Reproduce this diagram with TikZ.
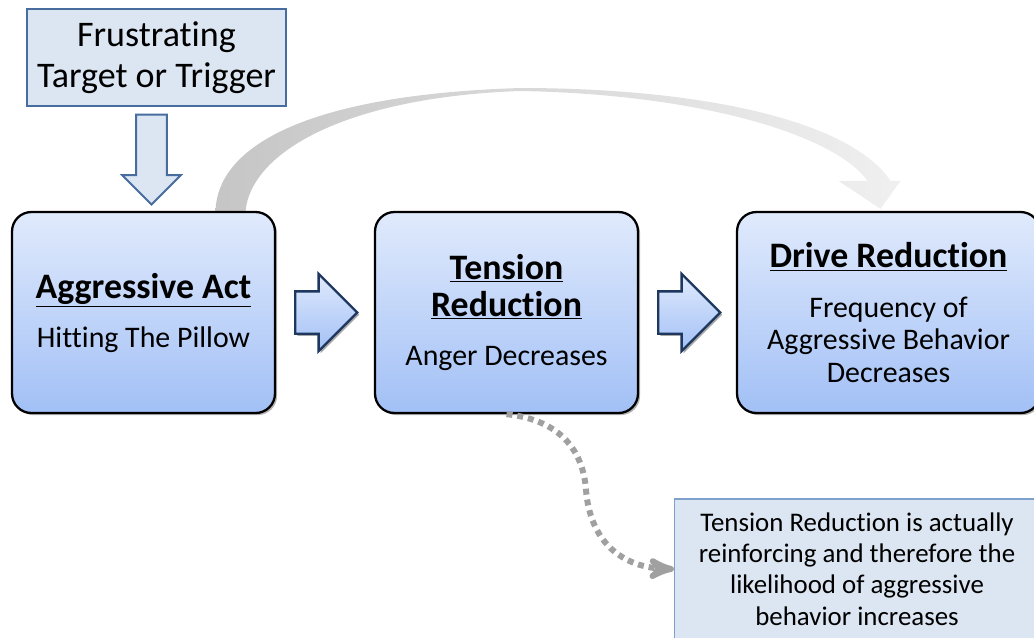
\documentclass[tikz,border=0pt]{standalone}
\usepackage{fontspec}
\setmainfont{Carlito}[Ligatures=NoCommon]
\usepackage{tikz}
\usetikzlibrary{arrows, shapes.arrows, shadows, calc, backgrounds}

\definecolor{stagetop}{RGB}{224,234,252}
\definecolor{stagebot}{RGB}{162,192,246}
\definecolor{paleblue}{RGB}{220,230,242}
\definecolor{steelblue}{RGB}{70,108,160}
\definecolor{noteline}{RGB}{125,160,205}
\definecolor{darknavy}{RGB}{30,55,95}
\definecolor{dotgray}{RGB}{160,160,160}

\newcommand{\headfont}{\fontsize{20.4}{24}\selectfont\bfseries}
\newcommand{\bodyfont}{\fontsize{17}{18.4}\selectfont}

\begin{document}
\begin{tikzpicture}
        [x=0.02cm, y=-0.02cm,
        stage/.style={rectangle, rounded corners=11pt, draw=black, line width=1.3pt,
           top color=stagetop, bottom color=stagebot, align=center, font=\bodyfont,
           minimum width=5.26cm, minimum height=4.02cm,
           drop shadow={shadow xshift=1.2pt, shadow yshift=-1.2pt, opacity=.6}},
        panel/.style={rectangle, fill=paleblue, align=center, line width=0.7pt},
        blockarr/.style={single arrow, anchor=tail, single arrow head extend=0.35cm, inner xsep=0pt, inner ysep=0.4cm,
           minimum height=1.24cm, draw=darknavy, line width=1.3pt,
           top color=stagetop, bottom color=stagebot,
           drop shadow={shadow xshift=1.2pt, shadow yshift=-1.2pt, opacity=.7}},
        dotarr/.style={->, >=stealth', color=dotgray, line width=3.4pt, dash pattern=on 3.4pt off 2.8pt}]
        \useasboundingbox (0,0) rectangle (1034,637);
        \node (trig) at (156.5,57.5) [panel, draw=steelblue, minimum width=5.18cm, minimum height=1.94cm,
           font=\fontsize{20.5}{23.3}\selectfont] {Frustrating\\Target or Trigger};
        \node (act) at (143.5,312.5) [stage]
           {{\headfont\underline{Aggressive Act}}\\[9.5pt]Hitting The Pillow};
        \node (ten) at (506.5,312.5) [stage]
           {{\headfont\underline{Tension}}\\[2.6pt]{\headfont\underline{Reduction}}\\[10pt]Anger Decreases};
        \node (drv) at (888.5,312.5) [stage, minimum width=6.06cm]
           {{\headfont\underline{Drive Reduction}}\\[10pt]Frequency of\\Aggressive Behavior\\Decreases};
        \node (note) at (857,569) [panel, draw=noteline, minimum width=7.3cm, minimum height=2.8cm,
           font=\fontsize{15.3}{17.9}\selectfont]
           {Tension Reduction is actually\\reinforcing and therefore the\\likelihood of aggressive\\behavior increases};
        % block arrows
        \node (trigarr) at ($(trig.south)+(-5,7)$) [single arrow, anchor=tail, rotate=-90, inner sep=0.29cm,
           single arrow head extend=0.28cm, minimum height=1.8cm, fill=paleblue, draw=steelblue, line width=1.1pt] {};
        \node (stepa) at ($(act.east)+(18,0)$) [blockarr] {};
        \node (stepb) at ($(ten.east)+(18,0)$) [blockarr] {};
        % feedback loop over the top
        \coordinate (loopout) at ($(act.north)+(72,0)$);
        \coordinate (looptip) at ($(drv.north)+(-8,-2)$);
        \begin{scope}[on background layer]
          \shade[left color=gray!45, right color=gray!12]
            (loopout) .. controls +(2,-62) and (300,95) .. (520,88)
            .. controls (700,88) and (850,120) .. ($(looptip)+(10,-28)$)
            -- ++(10,0) -- (looptip) -- ($(looptip)+(-42,-28)$) -- ++(29,0)
            .. controls (835,135) and (700,94) .. (520,91)
            .. controls (350,97) and (252,150) .. ($(loopout)+(30,0)$) -- cycle;
        \end{scope}
        \draw[dotarr] (ten.south) .. controls (560,420) and (583,450) .. (586,490)
           .. controls (590,540) and (620,568) .. (note.west);
     \end{tikzpicture}
\end{document}
